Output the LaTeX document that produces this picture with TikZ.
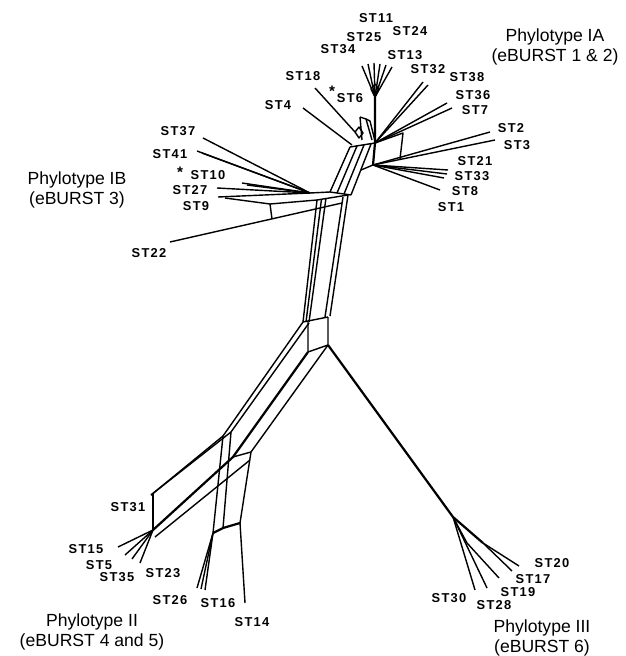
\documentclass[tikz,border=0pt]{standalone}
\usepackage{fontspec}
\setmainfont{Liberation Sans}
\newfontfamily\stfont[LetterSpace=10]{Liberation Sans Bold}
\usetikzlibrary{calc}

\begin{document}
\begin{tikzpicture}[
        x=0.03cm, y=-0.03cm,
        st/.style={font=\stfont\fontsize{11}{12}\selectfont, inner sep=0pt},
        star/.style={font=\stfont\fontsize{13}{14}\selectfont, inner sep=0pt},
        group/.style={font=\fontsize{15}{17.5}\selectfont, align=center, inner sep=0pt},
        edge/.style={line width=1.2pt, line join=round},
        trunk/.style={line width=1.9pt, line join=round}
    ]
        \useasboundingbox (0,0) rectangle (625,656);

        % Junctions
        \coordinate (fanJ) at (375,97);
        \coordinate (hA) at (375,143);
        \coordinate (hB) at (373,165);
        \coordinate (ib) at (310,193);
        \coordinate (mJ) at (328,345);
        \coordinate (j3) at (453,517);
        \coordinate (j31) at (153,530);
        \coordinate (j26) at (213,533);
        \coordinate (j14) at (240,523);

        % Phylotype IA: fan and hubs
        \foreach \x/\y in {362/66, 368/64, 374/63, 380/64, 386/65, 392/67}
            \draw[edge] (fanJ) -- (\x,\y);
        \draw[edge] (fanJ) -- (371,89) -- (375,84) -- (379,89) -- cycle;
        \draw[trunk] (fanJ) -- (hA) -- (hB);
        \draw[edge] (315,88) -- (355,132);
        \draw[edge] (303,108) -- (352,145);
        \draw[edge] (355,132) -- (359,127) -- (363,133) -- (359,138) -- cycle;
        \draw[edge] (360,117) -- (362,140);
        \draw[edge] (360,117) -- (366,119) -- (372,140);
        \draw[edge] (366,119) -- (370,121) -- (375,141);
        \foreach \x/\y in {423/82, 428/85, 447/103, 452/108}
            \draw[edge] (hA) -- (\x,\y);
        \foreach \x/\y in {490/132, 495/140, 448/170, 447/174, 444/178, 440/190}
            \draw[edge] (hB) -- (\x,\y);
        \draw[edge] (hA) -- (403,133) -- (400,159);

        % Core bundle
        \foreach \i in {0,...,3}
            \draw[edge] ($(350,147)+(\i*7,-\i)$) -- ($(330,192)+(\i*7,\i)$);
        \draw[edge] (350,147) -- (hA);
        \draw[edge] (330,192) -- (351,195);
        \draw[edge] (hB) -- (361,170);

        % Phylotype IB
        \foreach \x/\y in {203/138, 197/151, 202/153, 242/183, 247/185, 217/188, 218/197}
            \draw[edge] (\x,\y) -- (ib);
        \draw[edge] (225,198) -- (270,204) -- (317,200);
        \draw[edge] (270,204) -- (272,219);
        \draw[edge] (170,242) -- (342,203);
        \draw[edge] (ib) -- (330,192);

        % Central bands
        \foreach \i in {0,1,2}
            \draw[edge] ($(317,200)+(\i*4.5,-\i)$) -- ($(303,322)+(\i*3,0)$);
        \draw[edge] (343,197) -- (325,317);
        \draw[edge] (348,195) -- (330,316);
        \draw[edge] (317,200) -- (348,195);
        \draw[edge] (303,322) -- (328,317);
        \draw[edge] (308,322) -- (308,352) -- (mJ) -- (328,317);

        % Phylotype II
        \draw[edge] (303,322) -- (223,436) -- (151,495);
        \draw[edge] (309,323) -- (231,432) -- (156,491);
        \draw[edge] (151,495) -- (156,491);
        \draw[edge] (153,494) -- (j31);
        \draw[trunk] (308,352) -- (233,457) -- (j31);
        \draw[edge] (mJ) -- (251,452);
        \draw[edge] (250,460) -- (155,537);
        \draw[edge] (223,436) -- (j26);
        \draw[edge] (231,432) -- (223,528);
        \draw[edge] (251,452) -- (j14);
        \draw[edge] (233,457) -- (251,452);
        \draw[trunk] (j26) -- (223,528) -- (j14);
        \foreach \x/\y in {118/547, 125/555, 132/559, 140/563}
            \draw[edge] (j31) -- (\x,\y);
        \foreach \x/\y in {197/588, 201/589, 205/590}
            \draw[edge] (j26) -- (\x,\y);
        \draw[edge] (j14) -- (245,603);

        % Phylotype III
        \draw[trunk] (mJ) -- (j3);
        \draw[edge] (j3) -- (475,590);
        \draw[edge] (j3) -- (487,588);
        \draw[edge] (j3) -- (467,543) -- (499,578);
        \draw[trunk] (j3) -- (483,543);
        \draw[edge] (483,543) -- (512,571);
        \draw[edge] (483,543) -- (519,566);

        % Sequence type labels
        \foreach \name/\x/\y in {11/376/18, 24/410/31, 25/364/37, 34/338/49, 13/405/55,
                32/428/69, 38/467/77, 18/303/76, 6/350/98, 4/278/105, 36/473/95,
                7/475/110, 2/511/128, 3/517/145, 21/475/161, 33/472/176, 8/465/191,
                1/451/207, 37/178/131, 41/170/154, 10/208/175, 27/190/190, 9/196/206,
                22/149/253, 31/128/507, 15/86/549, 5/99/565, 35/117/577, 23/163/573,
                26/170/600, 16/218/603, 14/252/622, 20/552/563, 17/533/579,
                19/518/592, 30/449/598, 28/494/605}
            \node[st] (st\name) at (\x,\y) {ST\name};
        \node[star] (star6) at (332,91) {*};
        \node[star] (star10) at (180,172) {*};

        % Group labels
        \node[group] (pIA) at (555,47) {Phylotype IA\\(eBURST 1 \& 2)};
        \node[group] (pIB) at (77,190) {Phylotype IB\\(eBURST 3)};
        \node[group] (pII) at (92,632) {Phylotype II\\(eBURST 4 and 5)};
        \node[group] (pIII) at (542,638) {Phylotype III\\(eBURST 6)};
    \end{tikzpicture}
\end{document}
